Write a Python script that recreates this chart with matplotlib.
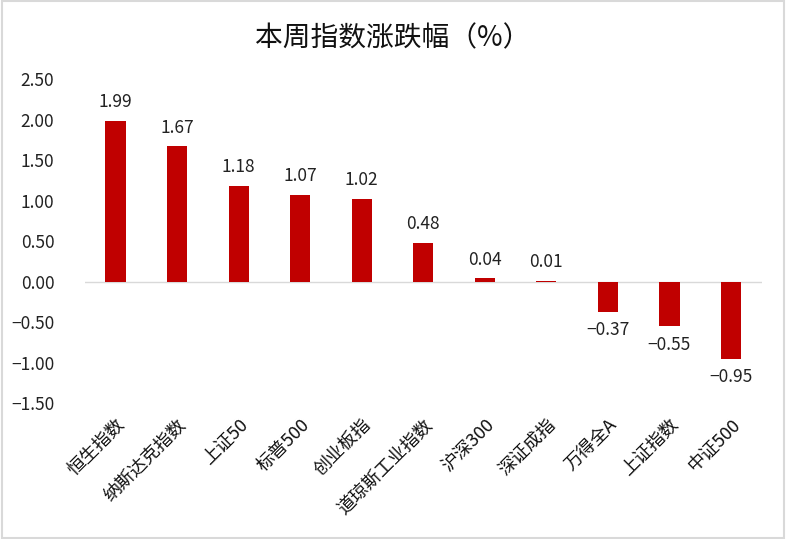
import matplotlib
matplotlib.use("Agg")
import matplotlib.pyplot as plt
from matplotlib.patches import Rectangle

plt.rcParams["font.family"] = ["Noto Sans CJK SC", "DejaVu Sans"]

categories = ["恒生指数", "纳斯达克指数", "上证50", "标普500", "创业板指", "道琼斯工业指数",
              "沪深300", "深证成指", "万得全A", "上证指数", "中证500"]
values = [1.99, 1.67, 1.18, 1.07, 1.02, 0.48, 0.04, 0.01, -0.37, -0.55, -0.95]
yticks = [-1.5, -1.0, -0.5, 0.0, 0.5, 1.0, 1.5, 2.0, 2.5]


def fmt(v):
    # Excel-style label with a real minus sign
    return f"{v:.2f}".replace("-", "\u2212")


fig = plt.figure(figsize=(7.86, 5.39), dpi=100)
ax = fig.add_axes([0.108, 0.252, 0.861, 0.601])

x = list(range(len(categories)))
ax.bar(x, values, width=0.33, color="#C00000", zorder=3)

for xi, v in zip(x, values):
    if v >= 0:
        ax.annotate(fmt(v), (xi, v), xytext=(0, 7), textcoords="offset points",
                    ha="center", va="bottom", fontsize=12.5, color="#222222")
    else:
        ax.annotate(fmt(v), (xi, v), xytext=(0, -7), textcoords="offset points",
                    ha="center", va="top", fontsize=12.5, color="#222222")

ax.set_xlim(-0.5, len(categories) - 0.5)
ax.set_ylim(-1.5, 2.5)
ax.set_yticks(yticks)
ax.set_yticklabels([fmt(t) for t in yticks], fontsize=12.5, color="#222222")
ax.set_xticks(x)
ax.set_xticklabels(categories, rotation=45, ha="right", va="top",
                   rotation_mode="anchor", fontsize=13, color="#111111")
ax.tick_params(axis="both", length=0)
ax.tick_params(axis="y", pad=22)
ax.tick_params(axis="x", pad=9)

for s in ["top", "right", "left", "bottom"]:
    ax.spines[s].set_visible(False)
ax.axhline(0, color="#D9D9D9", linewidth=1, zorder=2)

fig.suptitle("本周指数涨跌幅（%）", y=0.957, fontsize=20, color="#111111")

fig.patches.append(Rectangle((0.002, 0.002), 0.996, 0.996, transform=fig.transFigure,
                             fill=False, edgecolor="#D9D9D9", linewidth=1.5))

fig.savefig("out.png", dpi=100)
